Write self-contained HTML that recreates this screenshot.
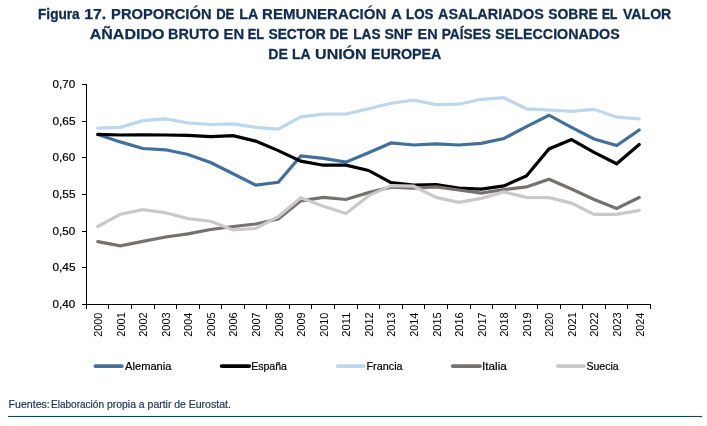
<!DOCTYPE html>
<html lang="es"><head><meta charset="utf-8"><title>Figura 17</title>
<style>
html,body{margin:0;padding:0;background:#fff;}
body{width:707px;height:426px;overflow:hidden;font-family:"Liberation Sans",sans-serif;}
svg{display:block}
text{font-family:"Liberation Sans",sans-serif;}
</style></head><body>
<svg width="707" height="426" viewBox="0 0 707 426">
<rect width="707" height="426" fill="#fff"/>
<text x="38.06" y="18.9" textLength="41.65" lengthAdjust="spacingAndGlyphs" style="font-weight:bold;font-size:14.5px" fill="#102c52" stroke="#102c52" stroke-width="0.35">Figura</text>
<text x="84.31" y="18.9" textLength="21.97" lengthAdjust="spacingAndGlyphs" style="font-weight:bold;font-size:14.5px" fill="#102c52" stroke="#102c52" stroke-width="0.25">17.</text>
<text x="111.09" y="18.9" textLength="100.42" lengthAdjust="spacingAndGlyphs" style="font-weight:bold;font-size:14.5px" fill="#102c52" stroke="#102c52" stroke-width="0.25">PROPORCIÓN</text>
<text x="216.20" y="18.9" textLength="18.10" lengthAdjust="spacingAndGlyphs" style="font-weight:bold;font-size:14.5px" fill="#102c52" stroke="#102c52" stroke-width="0.41">DE</text>
<text x="239.21" y="18.9" textLength="19.08" lengthAdjust="spacingAndGlyphs" style="font-weight:bold;font-size:14.5px" fill="#102c52" stroke="#102c52" stroke-width="0.27">LA</text>
<text x="262.07" y="18.9" textLength="124.20" lengthAdjust="spacingAndGlyphs" style="font-weight:bold;font-size:14.5px" fill="#102c52" stroke="#102c52" stroke-width="0.25">REMUNERACIÓN</text>
<text x="391.03" y="18.9" textLength="10.88" lengthAdjust="spacingAndGlyphs" style="font-weight:bold;font-size:14.5px" fill="#102c52" stroke="#102c52" stroke-width="0.25">A</text>
<text x="406.08" y="18.9" textLength="27.42" lengthAdjust="spacingAndGlyphs" style="font-weight:bold;font-size:14.5px" fill="#102c52" stroke="#102c52" stroke-width="0.38">LOS</text>
<text x="438.05" y="18.9" textLength="105.83" lengthAdjust="spacingAndGlyphs" style="font-weight:bold;font-size:14.5px" fill="#102c52" stroke="#102c52" stroke-width="0.26">ASALARIADOS</text>
<text x="548.26" y="18.9" textLength="49.50" lengthAdjust="spacingAndGlyphs" style="font-weight:bold;font-size:14.5px" fill="#102c52" stroke="#102c52" stroke-width="0.31">SOBRE</text>
<text x="602.08" y="18.9" textLength="15.26" lengthAdjust="spacingAndGlyphs" style="font-weight:bold;font-size:14.5px" fill="#102c52" stroke="#102c52" stroke-width="0.53">EL</text>
<text x="623.01" y="18.9" textLength="48.29" lengthAdjust="spacingAndGlyphs" style="font-weight:bold;font-size:14.5px" fill="#102c52" stroke="#102c52" stroke-width="0.30">VALOR</text>
<text x="89.69" y="38.8" textLength="74.75" lengthAdjust="spacingAndGlyphs" style="font-weight:bold;font-size:14.5px" fill="#102c52" stroke="#102c52" stroke-width="0.25">AÑADIDO</text>
<text x="168.10" y="38.8" textLength="51.09" lengthAdjust="spacingAndGlyphs" style="font-weight:bold;font-size:14.5px" fill="#102c52" stroke="#102c52" stroke-width="0.26">BRUTO</text>
<text x="223.58" y="38.8" textLength="20.54" lengthAdjust="spacingAndGlyphs" style="font-weight:bold;font-size:14.5px" fill="#102c52" stroke="#102c52" stroke-width="0.25">EN</text>
<text x="247.72" y="38.8" textLength="16.24" lengthAdjust="spacingAndGlyphs" style="font-weight:bold;font-size:14.5px" fill="#102c52" stroke="#102c52" stroke-width="0.45">EL</text>
<text x="268.46" y="38.8" textLength="57.28" lengthAdjust="spacingAndGlyphs" style="font-weight:bold;font-size:14.5px" fill="#102c52" stroke="#102c52" stroke-width="0.33">SECTOR</text>
<text x="329.79" y="38.8" textLength="18.32" lengthAdjust="spacingAndGlyphs" style="font-weight:bold;font-size:14.5px" fill="#102c52" stroke="#102c52" stroke-width="0.40">DE</text>
<text x="353.26" y="38.8" textLength="27.22" lengthAdjust="spacingAndGlyphs" style="font-weight:bold;font-size:14.5px" fill="#102c52" stroke="#102c52" stroke-width="0.35">LAS</text>
<text x="384.45" y="38.8" textLength="28.28" lengthAdjust="spacingAndGlyphs" style="font-weight:bold;font-size:14.5px" fill="#102c52" stroke="#102c52" stroke-width="0.29">SNF</text>
<text x="417.50" y="38.8" textLength="20.10" lengthAdjust="spacingAndGlyphs" style="font-weight:bold;font-size:14.5px" fill="#102c52" stroke="#102c52" stroke-width="0.25">EN</text>
<text x="441.65" y="38.8" textLength="49.31" lengthAdjust="spacingAndGlyphs" style="font-weight:bold;font-size:14.5px" fill="#102c52" stroke="#102c52" stroke-width="0.34">PAÍSES</text>
<text x="495.34" y="38.8" textLength="124.39" lengthAdjust="spacingAndGlyphs" style="font-weight:bold;font-size:14.5px" fill="#102c52" stroke="#102c52" stroke-width="0.28">SELECCIONADOS</text>
<text x="268.23" y="58.7" textLength="19.62" lengthAdjust="spacingAndGlyphs" style="font-weight:bold;font-size:14.5px" fill="#102c52" stroke="#102c52" stroke-width="0.29">DE</text>
<text x="292.03" y="58.7" textLength="18.75" lengthAdjust="spacingAndGlyphs" style="font-weight:bold;font-size:14.5px" fill="#102c52" stroke="#102c52" stroke-width="0.30">LA</text>
<text x="315.10" y="58.7" textLength="51.51" lengthAdjust="spacingAndGlyphs" style="font-weight:bold;font-size:14.5px" fill="#102c52" stroke="#102c52" stroke-width="0.25">UNIÓN</text>
<text x="370.92" y="58.7" textLength="70.49" lengthAdjust="spacingAndGlyphs" style="font-weight:bold;font-size:14.5px" fill="#102c52" stroke="#102c52" stroke-width="0.28">EUROPEA</text>
<text x="125.07" y="370.0" textLength="46.39" lengthAdjust="spacingAndGlyphs" style="font-size:10.9px" fill="#000" stroke="#000" stroke-width="0.20">Alemania</text>
<text x="251.13" y="370.0" textLength="35.85" lengthAdjust="spacingAndGlyphs" style="font-size:10.9px" fill="#000" stroke="#000" stroke-width="0.20">España</text>
<text x="366.40" y="370.0" textLength="36.26" lengthAdjust="spacingAndGlyphs" style="font-size:10.9px" fill="#000" stroke="#000" stroke-width="0.20">Francia</text>
<text x="482.02" y="370.0" textLength="24.75" lengthAdjust="spacingAndGlyphs" style="font-size:10.9px" fill="#000" stroke="#000" stroke-width="0.20">Italia</text>
<text x="586.45" y="370.0" textLength="32.28" lengthAdjust="spacingAndGlyphs" style="font-size:10.9px" fill="#000" stroke="#000" stroke-width="0.20">Suecia</text>
<text x="8.57" y="407.7" textLength="41.25" lengthAdjust="spacingAndGlyphs" style="font-size:10.3px" fill="#123258" stroke="#123258" stroke-width="0.18">Fuentes:</text>
<text x="51.03" y="407.7" textLength="52.96" lengthAdjust="spacingAndGlyphs" style="font-size:10.3px" fill="#123258" stroke="#123258" stroke-width="0.18">Elaboración</text>
<text x="106.91" y="407.7" textLength="79.04" lengthAdjust="spacingAndGlyphs" style="font-size:10.3px" fill="#123258" stroke="#123258" stroke-width="0.18">propia a partir de</text>
<text x="188.67" y="407.7" textLength="42.29" lengthAdjust="spacingAndGlyphs" style="font-size:10.3px" fill="#123258" stroke="#123258" stroke-width="0.18">Eurostat.</text>
<text x="52.48" y="87.9" textLength="22.64" lengthAdjust="spacingAndGlyphs" style="font-size:10.7px" fill="#000" stroke="#000" stroke-width="0.20">0,70</text>
<text x="52.47" y="124.6" textLength="23.07" lengthAdjust="spacingAndGlyphs" style="font-size:10.7px" fill="#000" stroke="#000" stroke-width="0.20">0,65</text>
<text x="52.48" y="161.2" textLength="22.64" lengthAdjust="spacingAndGlyphs" style="font-size:10.7px" fill="#000" stroke="#000" stroke-width="0.20">0,60</text>
<text x="52.47" y="197.9" textLength="23.07" lengthAdjust="spacingAndGlyphs" style="font-size:10.7px" fill="#000" stroke="#000" stroke-width="0.20">0,55</text>
<text x="52.48" y="234.6" textLength="22.64" lengthAdjust="spacingAndGlyphs" style="font-size:10.7px" fill="#000" stroke="#000" stroke-width="0.20">0,50</text>
<text x="52.47" y="271.2" textLength="23.07" lengthAdjust="spacingAndGlyphs" style="font-size:10.7px" fill="#000" stroke="#000" stroke-width="0.20">0,45</text>
<text x="52.48" y="307.9" textLength="22.64" lengthAdjust="spacingAndGlyphs" style="font-size:10.7px" fill="#000" stroke="#000" stroke-width="0.20">0,40</text>
<g fill="#000" shape-rendering="crispEdges">
<rect x="86" y="84" width="1" height="221"/>
<rect x="86" y="304" width="565" height="1"/>
<rect x="82" y="84" width="4" height="1"/>
<rect x="82" y="121" width="4" height="1"/>
<rect x="82" y="157" width="4" height="1"/>
<rect x="82" y="194" width="4" height="1"/>
<rect x="82" y="231" width="4" height="1"/>
<rect x="82" y="267" width="4" height="1"/>
<rect x="82" y="304" width="4" height="1"/>
<rect x="86" y="305" width="1" height="4"/>
<rect x="108" y="305" width="1" height="4"/>
<rect x="131" y="305" width="1" height="4"/>
<rect x="154" y="305" width="1" height="4"/>
<rect x="176" y="305" width="1" height="4"/>
<rect x="199" y="305" width="1" height="4"/>
<rect x="221" y="305" width="1" height="4"/>
<rect x="244" y="305" width="1" height="4"/>
<rect x="266" y="305" width="1" height="4"/>
<rect x="289" y="305" width="1" height="4"/>
<rect x="311" y="305" width="1" height="4"/>
<rect x="334" y="305" width="1" height="4"/>
<rect x="357" y="305" width="1" height="4"/>
<rect x="379" y="305" width="1" height="4"/>
<rect x="402" y="305" width="1" height="4"/>
<rect x="424" y="305" width="1" height="4"/>
<rect x="447" y="305" width="1" height="4"/>
<rect x="470" y="305" width="1" height="4"/>
<rect x="492" y="305" width="1" height="4"/>
<rect x="515" y="305" width="1" height="4"/>
<rect x="537" y="305" width="1" height="4"/>
<rect x="560" y="305" width="1" height="4"/>
<rect x="582" y="305" width="1" height="4"/>
<rect x="605" y="305" width="1" height="4"/>
<rect x="627" y="305" width="1" height="4"/>
<rect x="650" y="305" width="1" height="4"/>
</g>
<text transform="translate(102.1,336.76) rotate(-90)" textLength="24.12" lengthAdjust="spacingAndGlyphs" style="font-size:10.7px" fill="#000">2000</text>
<text transform="translate(124.6,336.78) rotate(-90)" textLength="24.66" lengthAdjust="spacingAndGlyphs" style="font-size:10.7px" fill="#000">2001</text>
<text transform="translate(147.2,336.77) rotate(-90)" textLength="24.45" lengthAdjust="spacingAndGlyphs" style="font-size:10.7px" fill="#000">2002</text>
<text transform="translate(169.8,336.77) rotate(-90)" textLength="24.44" lengthAdjust="spacingAndGlyphs" style="font-size:10.7px" fill="#000">2003</text>
<text transform="translate(192.3,336.76) rotate(-90)" textLength="23.97" lengthAdjust="spacingAndGlyphs" style="font-size:10.7px" fill="#000">2004</text>
<text transform="translate(214.9,336.77) rotate(-90)" textLength="24.51" lengthAdjust="spacingAndGlyphs" style="font-size:10.7px" fill="#000">2005</text>
<text transform="translate(237.4,336.77) rotate(-90)" textLength="24.52" lengthAdjust="spacingAndGlyphs" style="font-size:10.7px" fill="#000">2006</text>
<text transform="translate(260.0,336.77) rotate(-90)" textLength="24.44" lengthAdjust="spacingAndGlyphs" style="font-size:10.7px" fill="#000">2007</text>
<text transform="translate(282.6,336.77) rotate(-90)" textLength="24.42" lengthAdjust="spacingAndGlyphs" style="font-size:10.7px" fill="#000">2008</text>
<text transform="translate(305.1,336.77) rotate(-90)" textLength="24.44" lengthAdjust="spacingAndGlyphs" style="font-size:10.7px" fill="#000">2009</text>
<text transform="translate(327.7,336.76) rotate(-90)" textLength="24.12" lengthAdjust="spacingAndGlyphs" style="font-size:10.7px" fill="#000">2010</text>
<text transform="translate(350.2,336.79) rotate(-90)" textLength="24.30" lengthAdjust="spacingAndGlyphs" style="font-size:10.7px" fill="#000">2011</text>
<text transform="translate(372.8,336.77) rotate(-90)" textLength="24.45" lengthAdjust="spacingAndGlyphs" style="font-size:10.7px" fill="#000">2012</text>
<text transform="translate(395.4,336.77) rotate(-90)" textLength="24.44" lengthAdjust="spacingAndGlyphs" style="font-size:10.7px" fill="#000">2013</text>
<text transform="translate(417.9,336.76) rotate(-90)" textLength="23.97" lengthAdjust="spacingAndGlyphs" style="font-size:10.7px" fill="#000">2014</text>
<text transform="translate(440.5,336.77) rotate(-90)" textLength="24.51" lengthAdjust="spacingAndGlyphs" style="font-size:10.7px" fill="#000">2015</text>
<text transform="translate(463.0,336.77) rotate(-90)" textLength="24.52" lengthAdjust="spacingAndGlyphs" style="font-size:10.7px" fill="#000">2016</text>
<text transform="translate(485.6,336.77) rotate(-90)" textLength="24.44" lengthAdjust="spacingAndGlyphs" style="font-size:10.7px" fill="#000">2017</text>
<text transform="translate(508.2,336.77) rotate(-90)" textLength="24.42" lengthAdjust="spacingAndGlyphs" style="font-size:10.7px" fill="#000">2018</text>
<text transform="translate(530.7,336.77) rotate(-90)" textLength="24.44" lengthAdjust="spacingAndGlyphs" style="font-size:10.7px" fill="#000">2019</text>
<text transform="translate(553.3,336.76) rotate(-90)" textLength="24.12" lengthAdjust="spacingAndGlyphs" style="font-size:10.7px" fill="#000">2020</text>
<text transform="translate(575.8,336.78) rotate(-90)" textLength="24.66" lengthAdjust="spacingAndGlyphs" style="font-size:10.7px" fill="#000">2021</text>
<text transform="translate(598.4,336.77) rotate(-90)" textLength="24.45" lengthAdjust="spacingAndGlyphs" style="font-size:10.7px" fill="#000">2022</text>
<text transform="translate(621.0,336.77) rotate(-90)" textLength="24.44" lengthAdjust="spacingAndGlyphs" style="font-size:10.7px" fill="#000">2023</text>
<text transform="translate(643.5,336.76) rotate(-90)" textLength="23.97" lengthAdjust="spacingAndGlyphs" style="font-size:10.7px" fill="#000">2024</text>
<polyline points="97.8,134.6 120.3,141.9 142.9,148.5 165.5,149.8 188.0,154.5 210.6,162.5 233.1,173.8 255.7,185.2 278.3,182.3 300.8,155.9 323.4,158.4 345.9,162.2 368.5,152.7 391.1,143 413.6,145 436.2,143.8 458.7,145 481.3,143.4 503.9,138.5 526.4,126.6 549.0,115.2 571.5,127.3 594.1,139 616.7,145.5 639.2,130" fill="none" stroke="#41709c" stroke-width="3.2" stroke-linejoin="miter" stroke-linecap="round"/>
<polyline points="97.8,134.4 120.3,135 142.9,134.8 165.5,135 188.0,135.4 210.6,136.7 233.1,135.7 255.7,141.1 278.3,150.6 300.8,161.1 323.4,165.2 345.9,165.2 368.5,170.4 391.1,182.7 413.6,185.2 436.2,184.7 458.7,188.1 481.3,189.1 503.9,185.9 526.4,176 549.0,148.9 571.5,139.6 594.1,152.4 616.7,163.8 639.2,144.5" fill="none" stroke="#000000" stroke-width="3.2" stroke-linejoin="miter" stroke-linecap="round"/>
<polyline points="97.8,128.2 120.3,127.3 142.9,120.7 165.5,118.8 188.0,122.8 210.6,124.5 233.1,123.9 255.7,127.4 278.3,129.2 300.8,116.9 323.4,114.1 345.9,114.1 368.5,108.8 391.1,103.2 413.6,100.2 436.2,104.6 458.7,104.2 481.3,99.3 503.9,97.7 526.4,108.8 549.0,110.0 571.5,111.4 594.1,109.3 616.7,117.2 639.2,118.8" fill="none" stroke="#bdd7ee" stroke-width="3.2" stroke-linejoin="miter" stroke-linecap="round"/>
<polyline points="97.8,241.6 120.3,245.9 142.9,241.4 165.5,237 188.0,233.9 210.6,229.5 233.1,226.5 255.7,224 278.3,219 300.8,200.8 323.4,197.4 345.9,199.5 368.5,192.6 391.1,187.1 413.6,188.1 436.2,186.9 458.7,190.0 481.3,193.1 503.9,189.5 526.4,186.9 549.0,179.2 571.5,189 594.1,199.5 616.7,208.4 639.2,197.5" fill="none" stroke="#767171" stroke-width="3.2" stroke-linejoin="miter" stroke-linecap="round"/>
<polyline points="97.8,226.5 120.3,214.3 142.9,209.7 165.5,212.7 188.0,218.6 210.6,221.2 233.1,229.9 255.7,228.5 278.3,216.6 300.8,197.8 323.4,206.2 345.9,213.4 368.5,195.9 391.1,185.6 413.6,186.2 436.2,197.4 458.7,202.4 481.3,198.4 503.9,191.9 526.4,197.4 549.0,197.7 571.5,203.1 594.1,214.4 616.7,214.4 639.2,210.4" fill="none" stroke="#c9c9c9" stroke-width="3.2" stroke-linejoin="miter" stroke-linecap="round"/>
<line x1="95.5" y1="366.1" x2="121.8" y2="366.1" stroke="#41709c" stroke-width="3.9" stroke-linecap="round"/>
<line x1="221.7" y1="366.1" x2="249.2" y2="366.1" stroke="#000000" stroke-width="3.9" stroke-linecap="round"/>
<line x1="337.7" y1="366.1" x2="363.9" y2="366.1" stroke="#bdd7ee" stroke-width="3.9" stroke-linecap="round"/>
<line x1="452.8" y1="366.1" x2="480" y2="366.1" stroke="#767171" stroke-width="3.9" stroke-linecap="round"/>
<line x1="557.8" y1="366.1" x2="584" y2="366.1" stroke="#c9c9c9" stroke-width="3.9" stroke-linecap="round"/>
<rect x="8" y="416" width="694" height="1" fill="#10426a" shape-rendering="crispEdges"/><rect x="8" y="415.6" width="694" height="1.7" fill="#10426a" opacity="0.12"/>
</svg>
</body></html>
